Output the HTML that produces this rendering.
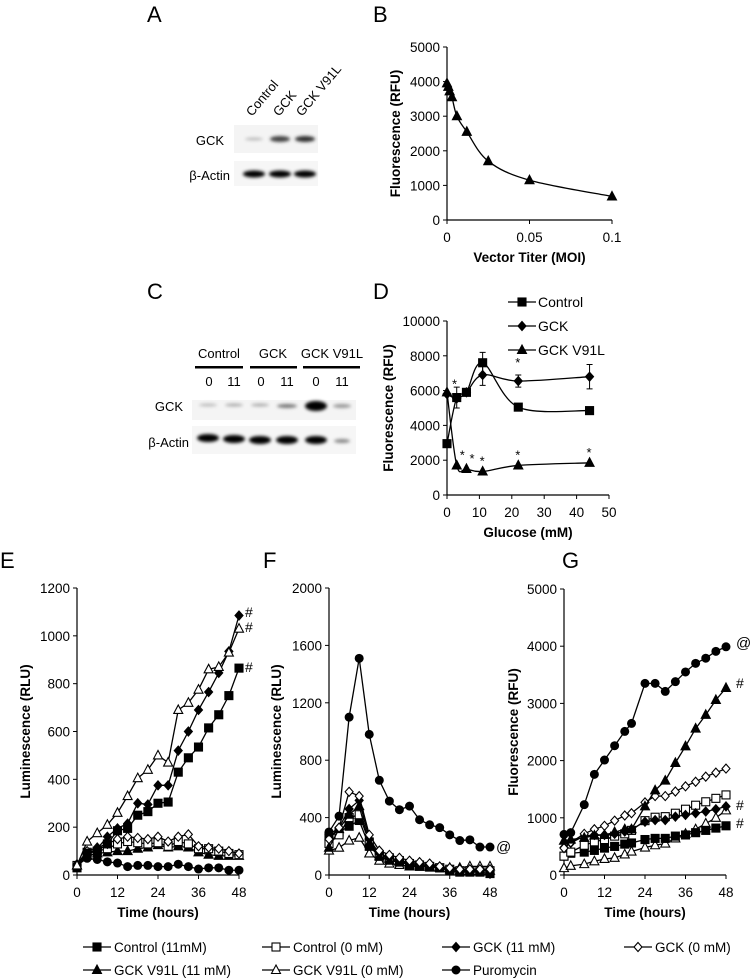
<!DOCTYPE html>
<html><head><meta charset="utf-8"><style>
html,body{margin:0;padding:0;background:#fff}
svg{display:block;font-family:"Liberation Sans",Arial,sans-serif}
</style></head><body>
<svg id="fig" width="750" height="980" viewBox="0 0 750 980" xmlns="http://www.w3.org/2000/svg">
<defs><filter id="blur" x="-30%" y="-100%" width="160%" height="300%"><feGaussianBlur stdDeviation="1.6"/></filter></defs>
<g font-size="22" fill="#000">
<text x="147" y="22">A</text><text x="373" y="22">B</text>
<text x="147" y="299">C</text><text x="373" y="299">D</text>
<text x="0" y="568">E</text><text x="263" y="568">F</text><text x="562" y="568">G</text>
</g>
<!-- Blot A -->
<g>
<text transform="translate(252,117) rotate(-50)" font-size="13">Control</text>
<text transform="translate(279,117) rotate(-50)" font-size="13">GCK</text>
<text transform="translate(302,117) rotate(-50)" font-size="13">GCK V91L</text>
<text x="224" y="145" font-size="13" text-anchor="end">GCK</text>
<text x="230" y="180" font-size="13" text-anchor="end">β-Actin</text>
<rect x="234" y="125" width="84" height="28" fill="#f4f4f4"/>
<rect x="234" y="161" width="84" height="25" fill="#f6f6f6"/>
<g filter="url(#blur)">
<ellipse cx="254" cy="139" rx="9" ry="1.5" fill="#bbb"/>
<ellipse cx="280" cy="139" rx="10" ry="3" fill="#444"/>
<ellipse cx="305" cy="139" rx="10" ry="3" fill="#333"/>
<ellipse cx="254" cy="174" rx="11" ry="3.5" fill="#000"/>
<ellipse cx="280" cy="174" rx="11" ry="3.5" fill="#000"/>
<ellipse cx="305" cy="174" rx="11" ry="3.5" fill="#000"/>
</g></g>
<!-- Blot C -->
<g font-size="13">
<text x="219" y="358" text-anchor="middle">Control</text>
<text x="273" y="358" text-anchor="middle">GCK</text>
<text x="332" y="358" text-anchor="middle">GCK V91L</text>
<rect x="195" y="366" width="48" height="2.5" fill="#000"/>
<rect x="250" y="366" width="47" height="2.5" fill="#000"/>
<rect x="303" y="366" width="57" height="2.5" fill="#000"/>
<text x="209" y="386" text-anchor="middle">0</text><text x="234" y="386" text-anchor="middle">11</text>
<text x="261" y="386" text-anchor="middle">0</text><text x="287" y="386" text-anchor="middle">11</text>
<text x="316" y="386" text-anchor="middle">0</text><text x="342" y="386" text-anchor="middle">11</text>
<text x="183" y="411" text-anchor="end">GCK</text>
<text x="189" y="447" text-anchor="end">β-Actin</text>
<rect x="192" y="400" width="164" height="20" fill="#f4f4f4"/>
<rect x="192" y="426" width="164" height="28" fill="#f6f6f6"/>
<g filter="url(#blur)">
<ellipse cx="208" cy="405" rx="9" ry="1.5" fill="#bbb"/>
<ellipse cx="234" cy="405" rx="9" ry="1.5" fill="#aaa"/>
<ellipse cx="260" cy="405" rx="9" ry="1.5" fill="#aaa"/>
<ellipse cx="287" cy="406" rx="10" ry="2" fill="#777"/>
<ellipse cx="316" cy="406" rx="11" ry="5" fill="#000"/>
<ellipse cx="342" cy="406" rx="9" ry="2" fill="#999"/>
<ellipse cx="208" cy="438" rx="11" ry="4" fill="#000"/>
<ellipse cx="234" cy="439" rx="11" ry="4" fill="#000"/>
<ellipse cx="260" cy="440" rx="11" ry="4" fill="#000"/>
<ellipse cx="287" cy="440" rx="11" ry="4" fill="#000"/>
<ellipse cx="316" cy="440" rx="11" ry="4" fill="#000"/>
<ellipse cx="342" cy="441" rx="8" ry="2" fill="#888"/>
</g></g>
<g id="plots"></g>
<g id="legend"></g>
</svg>
<script>
// ---- Panel B data ----
const bMoi = [0, 0.0008, 0.0016, 0.003, 0.006, 0.012, 0.025, 0.05, 0.1];
const bFluor = [3950, 3850, 3720, 3550, 3000, 2550, 1700, 1150, 680];
const bYTicks = [0, 1000, 2000, 3000, 4000, 5000];
const bXTicks = [0, 0.05, 0.1];
// ---- Panel D data ----
const dGlucose = [0, 3, 6, 11, 22, 44];
const dControl = [2950, 5600, 5900, 7600, 5050, 4850];
const dGck = [5800, 5550, 5900, 6900, 6550, 6800];
const dV91L = [5900, 1700, 1500, 1350, 1700, 1850];
const dYTicks = [0, 2000, 4000, 6000, 8000, 10000];
const dXTicks = [0, 10, 20, 30, 40, 50];
// ---- Panel E data ----
const eTimes = [0,3,6,9,12,15,18,21,24,27,30,33,36,39,42,45,48];
const eCtl11 = [30,90,100,130,185,195,250,265,300,305,430,490,535,615,670,750,865];
const eCtl0 = [40,95,100,110,130,140,135,130,135,120,140,130,110,110,100,90,85];
const eGck11 = [40,90,110,160,195,215,300,295,375,375,520,600,690,765,845,935,1085];
const eGck0 = [45,100,115,130,150,160,155,150,160,140,160,170,120,115,110,100,90];
const eV11 = [40,80,90,95,100,100,110,115,125,115,120,115,95,85,80,80,80];
const eV0 = [40,140,175,210,260,330,405,440,500,470,690,720,775,860,870,930,1030];
const ePuro = [40,70,65,55,50,35,40,40,35,35,45,35,25,30,30,20,20];
const eYTicks = [0,200,400,600,800,1000,1200];
// ---- Panel F data ----
const fTimes = [0,3,6,9,12,15,18,21,24,27,30,33,36,39,42,45,48];
const fCtl11 = [270,300,340,380,200,130,110,90,70,60,55,50,30,20,20,20,10];
const fCtl0 = [220,280,400,420,230,140,120,100,80,70,60,50,40,30,30,30,30];
const fGck11 = [280,330,460,520,250,150,120,100,90,80,70,55,45,35,30,30,25];
const fGck0 = [250,330,580,550,280,170,140,120,100,90,80,60,50,40,40,40,40];
const fV11 = [190,320,420,480,220,130,100,90,80,70,60,50,40,30,30,30,30];
const fV0 = [170,190,240,260,150,100,80,70,60,60,55,50,50,50,60,60,60];
const fPuro = [300,410,1100,1510,980,660,515,455,480,385,350,330,280,240,245,195,195];
const fYTicks = [0,400,800,1200,1600,2000];
// ---- Panel G data ----
const gTimes = [0,2,6,9,12,15,18,20,24,27,30,33,36,39,42,45,48];
const gCtl11 = [330,380,400,430,470,500,540,560,620,640,640,680,700,740,780,820,860];
const gCtl0 = [330,400,520,580,620,680,720,780,950,1010,1020,1080,1150,1220,1280,1340,1400];
const gGck11 = [480,560,680,700,700,720,760,800,930,960,960,1020,1050,1080,1110,1150,1200];
const gGck0 = [470,570,720,800,860,950,1040,1080,1270,1380,1380,1460,1550,1630,1720,1790,1860];
const gV11 = [600,620,650,690,700,750,800,800,1200,1480,1650,1960,2250,2560,2800,3060,3270];
const gV0 = [120,160,190,240,280,300,360,410,480,520,550,640,720,800,900,1000,1130];
const gPuro = [710,740,1230,1760,2010,2260,2510,2650,3350,3350,3210,3380,3550,3700,3790,3910,3990];
const gYTicks = [0,1000,2000,3000,4000,5000];
const timeTicks = [0,12,24,36,48];

const NS = "http://www.w3.org/2000/svg";
const root = document.getElementById('plots');
function el(tag, attrs, parent){const e=document.createElementNS(NS,tag);for(const k in attrs)e.setAttribute(k,attrs[k]);(parent||root).appendChild(e);return e;}

function marker(type, x, y, g, s){
  s = s||4;
  let e;
  const fill = type.endsWith('open') ? '#fff' : '#000';
  if(type.startsWith('square')) e = el('rect',{x:x-s,y:y-s,width:2*s,height:2*s,fill:fill,stroke:'#000','stroke-width':1.1},g);
  else if(type.startsWith('diamond')) e = el('polygon',{points:`${x},${y-s-0.5} ${x+s},${y} ${x},${y+s+0.5} ${x-s},${y}`,fill:fill,stroke:'#000','stroke-width':1.1},g);
  else if(type.startsWith('tri')) e = el('polygon',{points:`${x},${y-s-1} ${x+s+0.5},${y+s-0.5} ${x-s-0.5},${y+s-0.5}`,fill:fill,stroke:'#000','stroke-width':1.1},g);
  else e = el('circle',{cx:x,cy:y,r:s,fill:fill,stroke:'#000','stroke-width':1},g);
  
  
  return e;
}
function smoothPath(pts){
  let d=`M${pts[0][0]},${pts[0][1]}`;
  for(let i=0;i<pts.length-1;i++){
    const p0=pts[Math.max(0,i-1)],p1=pts[i],p2=pts[i+1],p3=pts[Math.min(pts.length-1,i+2)];
    const t=6;
    d+=` C${p1[0]+(p2[0]-p0[0])/t},${p1[1]+(p2[1]-p0[1])/t} ${p2[0]-(p3[0]-p1[0])/t},${p2[1]-(p3[1]-p1[1])/t} ${p2[0]},${p2[1]}`;
  }
  return d;
}
function makeAxes(name, cfg){
  const g = el('g',{});
  
  
  const sx = v => cfg.x0 + (v - cfg.xmin)/(cfg.xmax-cfg.xmin)*(cfg.x1-cfg.x0);
  const sy = v => cfg.y0 - (v - cfg.ymin)/(cfg.ymax-cfg.ymin)*(cfg.y0-cfg.y1);
  el('line',{x1:cfg.x0,y1:cfg.y1,x2:cfg.x0,y2:cfg.y0,stroke:'#000','stroke-width':1.2},g);
  el('line',{x1:cfg.x0,y1:cfg.y0,x2:cfg.x1,y2:cfg.y0,stroke:'#000','stroke-width':1.2},g);
  cfg.yticks.forEach(v=>{
    el('line',{x1:cfg.x0-4,y1:sy(v),x2:cfg.x0,y2:sy(v),stroke:'#000','stroke-width':1},g);
    const t=el('text',{x:cfg.x0-7,y:sy(v)+5,'font-size':13.5,'text-anchor':'end'},g);t.textContent=v;
    
  });
  cfg.xticks.forEach(v=>{
    el('line',{x1:sx(v),y1:cfg.y0,x2:sx(v),y2:cfg.y0+4,stroke:'#000','stroke-width':1},g);
    const t=el('text',{x:sx(v),y:cfg.y0+22,'font-size':13.5,'text-anchor':'middle'},g);t.textContent=v;
    
  });
  const xt=el('text',{x:(cfg.x0+cfg.x1)/2,y:cfg.y0+42,'font-size':13.5,'font-weight':'bold','text-anchor':'middle'},g);
  xt.textContent=cfg.xlabel;
  
  const yt=el('text',{transform:`translate(${cfg.ylx},${(cfg.y0+cfg.y1)/2}) rotate(-90)`,'font-size':13.5,'font-weight':'bold','text-anchor':'middle'},g);
  yt.textContent=cfg.ylabel;
  
  return {g,sx,sy};
}
function series(ax, xs, ys, type, name, smooth){
  const g=el('g',{},ax.g);
  
  
  const pts=xs.map((x,i)=>[ax.sx(x),ax.sy(ys[i])]);
  el('path',{d: smooth?smoothPath(pts):'M'+pts.map(p=>p.join(',')).join(' L'),fill:'none',stroke:'#000','stroke-width':1.3},g);
  pts.forEach(p=>marker(type,p[0],p[1],g));
  return pts;
}
function note(ax, x, y, txt, size){
  const t=el('text',{x:x,y:y,'font-size':size||14},ax.g);t.textContent=txt;
  
}

// Panel B
const B = makeAxes('panel-b-chart',{x0:447,x1:612,y0:220,y1:47,xmin:0,xmax:0.1,ymin:0,ymax:5000,yticks:bYTicks,xticks:bXTicks,xlabel:'Vector Titer (MOI)',ylabel:'Fluorescence (RFU)',ylx:400});
series(B,bMoi,bFluor,'tri','series-b-fluorescence',true);

// Panel D
const D = makeAxes('panel-d-chart',{x0:447,x1:609,y0:495,y1:321,xmin:0,xmax:50,ymin:0,ymax:10000,yticks:dYTicks,xticks:dXTicks,xlabel:'Glucose (mM)',ylabel:'Fluorescence (RFU)',ylx:393});
const dC=series(D,dGlucose,dControl,'square','series-d-control',true);
const dG=series(D,dGlucose,dGck,'diamond','series-d-gck',true);
const dV=series(D,dGlucose,dV91L,'tri','series-d-gck-v91l',true);
[[dC,1,600],[dC,3,600],[dG,3,600],[dG,4,350],[dG,5,700]].forEach(([p,i,e])=>{
  const h=e*(174/10000);const x=p[i][0],y=p[i][1];
  el('path',{d:`M${x},${y-h} V${y+h} M${x-3},${y-h} H${x+3} M${x-3},${y+h} H${x+3}`,stroke:'#000','stroke-width':1,fill:'none'},D.g);
});
note(D,dV[0][0]+5,dV[0][1]-4,'*',13);
[1,2,3,4,5].forEach(i=>note(D,dV[i][0]+(i<3?3:-3),dV[i][1]-6,'*',13));
note(D,dG[4][0]-3,dG[4][1]-14,'*',13);
[['square','Control',302],['diamond','GCK',326],['tri','GCK V91L',350]].forEach(([t,l,y])=>{
  const g=el('g',{},D.g);
  
  el('line',{x1:508,y1:y,x2:536,y2:y,stroke:'#000','stroke-width':1.3},g);
  marker(t,522,y,g);
  const tx=el('text',{x:538,y:y+5,'font-size':14},g);tx.textContent=l;
});

// Panel E
const E = makeAxes('panel-e-chart',{x0:77,x1:239,y0:875,y1:588,xmin:0,xmax:48,ymin:0,ymax:1200,yticks:eYTicks,xticks:timeTicks,xlabel:'Time (hours)',ylabel:'Luminescence (RLU)',ylx:30});
series(E,eTimes,ePuro,'circle','series-e-puromycin');
series(E,eTimes,eV11,'tri','series-e-v91l-11');
series(E,eTimes,eCtl0,'square-open','series-e-control-0');
series(E,eTimes,eGck0,'diamond-open','series-e-gck-0');
series(E,eTimes,eCtl11,'square','series-e-control-11');
series(E,eTimes,eGck11,'diamond','series-e-gck-11');
series(E,eTimes,eV0,'tri-open','series-e-v91l-0');
note(E,245,617,'#');note(E,245,632,'#');note(E,245,672,'#');

// Panel F
const F = makeAxes('panel-f-chart',{x0:329,x1:490,y0:875,y1:588,xmin:0,xmax:48,ymin:0,ymax:2000,yticks:fYTicks,xticks:timeTicks,xlabel:'Time (hours)',ylabel:'Luminescence (RLU)',ylx:281});
series(F,fTimes,fV0,'tri-open','series-f-v91l-0');
series(F,fTimes,fCtl11,'square','series-f-control-11');
series(F,fTimes,fCtl0,'square-open','series-f-control-0');
series(F,fTimes,fV11,'tri','series-f-v91l-11');
series(F,fTimes,fGck11,'diamond','series-f-gck-11');
series(F,fTimes,fGck0,'diamond-open','series-f-gck-0');
series(F,fTimes,fPuro,'circle','series-f-puromycin');
note(F,496,852,'@',15);

// Panel G
const G = makeAxes('panel-g-chart',{x0:564,x1:726,y0:875,y1:589,xmin:0,xmax:48,ymin:0,ymax:5000,yticks:gYTicks,xticks:timeTicks,xlabel:'Time (hours)',ylabel:'Fluorescence (RFU)',ylx:518});
series(G,gTimes,gV0,'tri-open','series-g-v91l-0');
series(G,gTimes,gCtl11,'square','series-g-control-11');
series(G,gTimes,gCtl0,'square-open','series-g-control-0');
series(G,gTimes,gGck11,'diamond','series-g-gck-11');
series(G,gTimes,gGck0,'diamond-open','series-g-gck-0');
series(G,gTimes,gV11,'tri','series-g-v91l-11');
series(G,gTimes,gPuro,'circle','series-g-puromycin');
note(G,736,648,'@',15);note(G,736,688,'#');note(G,736,810,'#');note(G,736,828,'#');

// Bottom legend
const leg=document.getElementById('legend');
[['square','Control (11mM)',83,947],['square-open','Control (0 mM)',262,947],['diamond','GCK (11 mM)',442,947],['diamond-open','GCK (0 mM)',624,947],
 ['tri','GCK V91L (11 mM)',83,970],['tri-open','GCK V91L (0 mM)',262,970],['circle','Puromycin',442,970]].forEach(([t,l,x,y])=>{
  const g=el('g',{},leg);
  
  
  el('line',{x1:x,y1:y,x2:x+28,y2:y,stroke:'#000','stroke-width':1.3},g);
  marker(t,x+14,y,g);
  const tx=el('text',{x:x+31,y:y+5,'font-size':13.5},g);tx.textContent=l;
});
</script>
</body></html>
